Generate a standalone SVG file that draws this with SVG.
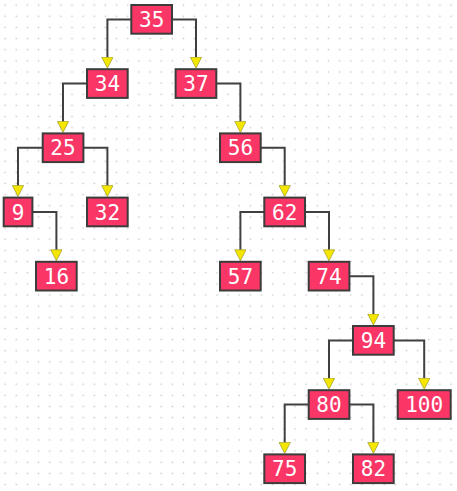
<svg xmlns="http://www.w3.org/2000/svg" width="457" height="491" viewBox="0 0 457 491">
<defs>
<pattern id="grid" patternUnits="userSpaceOnUse" x="0" y="0" width="11.15" height="11.15">
<rect x="4.4" y="4.4" width="1.4" height="1.4" fill="#c4c4c4"/>
</pattern>
<marker id="arr" viewBox="0 0 12 12" markerWidth="12" markerHeight="12" markerUnits="userSpaceOnUse" refX="0.5" refY="6" orient="auto">
<path d="M0.5,0.3 L11.5,6 L0.5,11.7 z" fill="#f5e600" stroke="#8a8a20" stroke-width="0.6"/>
</marker>
<style>
.n rect{fill:#f93666;stroke:#3c3c3c;stroke-width:2}
.n text{fill:#ffffff;font-family:"DejaVu Sans Mono","Liberation Mono",monospace;font-size:21px;text-anchor:middle}
.c path{fill:none;stroke:#404040;stroke-width:2;marker-end:url(#arr)}
</style>
</defs>
<rect width="457" height="491" fill="#ffffff"/>
<rect width="457" height="491" fill="url(#grid)"/>
<g id="connectors" class="c">
<path d="M131.3,19.4 H107.4 V57.2"/>
<path d="M172,19.4 H196 V57.2"/>
<path d="M87,83.6 H63 V121.4"/>
<path d="M216.3,83.6 H240.4 V121.4"/>
<path d="M42.7,147.8 H18 V185.6"/>
<path d="M83.4,147.8 H107.4 V185.6"/>
<path d="M32.4,212 H56.4 V249.8"/>
<path d="M260.7,147.8 H284.7 V185.6"/>
<path d="M264.3,212 H240.4 V249.8"/>
<path d="M305,212 H329 V249.8"/>
<path d="M349.4,276.2 H373.4 V314"/>
<path d="M353,340.4 H329 V378.2"/>
<path d="M393.7,340.4 H424.2 V378.2"/>
<path d="M308.7,404.6 H284.7 V442.4"/>
<path d="M349.4,404.6 H373.4 V442.4"/>
</g>
<g id="n35" class="n"><rect x="131.3" y="5" width="40.7" height="28.7"/><text x="151.7" y="27">35</text></g>
<g id="n34" class="n"><rect x="87" y="69.2" width="40.7" height="28.7"/><text x="107.4" y="91.2">34</text></g>
<g id="n37" class="n"><rect x="175.6" y="69.2" width="40.7" height="28.7"/><text x="196" y="91.2">37</text></g>
<g id="n25" class="n"><rect x="42.7" y="133.4" width="40.7" height="28.7"/><text x="63" y="155.4">25</text></g>
<g id="n56" class="n"><rect x="220" y="133.4" width="40.7" height="28.7"/><text x="240.4" y="155.4">56</text></g>
<g id="n9" class="n"><rect x="3.7" y="197.6" width="28.7" height="28.7"/><text x="18" y="219.6">9</text></g>
<g id="n32" class="n"><rect x="87" y="197.6" width="40.7" height="28.7"/><text x="107.4" y="219.6">32</text></g>
<g id="n62" class="n"><rect x="264.3" y="197.6" width="40.7" height="28.7"/><text x="284.7" y="219.6">62</text></g>
<g id="n16" class="n"><rect x="36" y="261.8" width="40.7" height="28.7"/><text x="56.4" y="283.8">16</text></g>
<g id="n57" class="n"><rect x="220" y="261.8" width="40.7" height="28.7"/><text x="240.4" y="283.8">57</text></g>
<g id="n74" class="n"><rect x="308.7" y="261.8" width="40.7" height="28.7"/><text x="329" y="283.8">74</text></g>
<g id="n94" class="n"><rect x="353" y="326" width="40.7" height="28.7"/><text x="373.4" y="348">94</text></g>
<g id="n80" class="n"><rect x="308.7" y="390.2" width="40.7" height="28.7"/><text x="329" y="412.2">80</text></g>
<g id="n100" class="n"><rect x="397.7" y="390.2" width="53" height="28.7"/><text x="424.2" y="412.2">100</text></g>
<g id="n75" class="n"><rect x="264.3" y="454.4" width="40.7" height="28.7"/><text x="284.7" y="476.4">75</text></g>
<g id="n82" class="n"><rect x="353" y="454.4" width="40.7" height="28.7"/><text x="373.4" y="476.4">82</text></g>
</svg>
